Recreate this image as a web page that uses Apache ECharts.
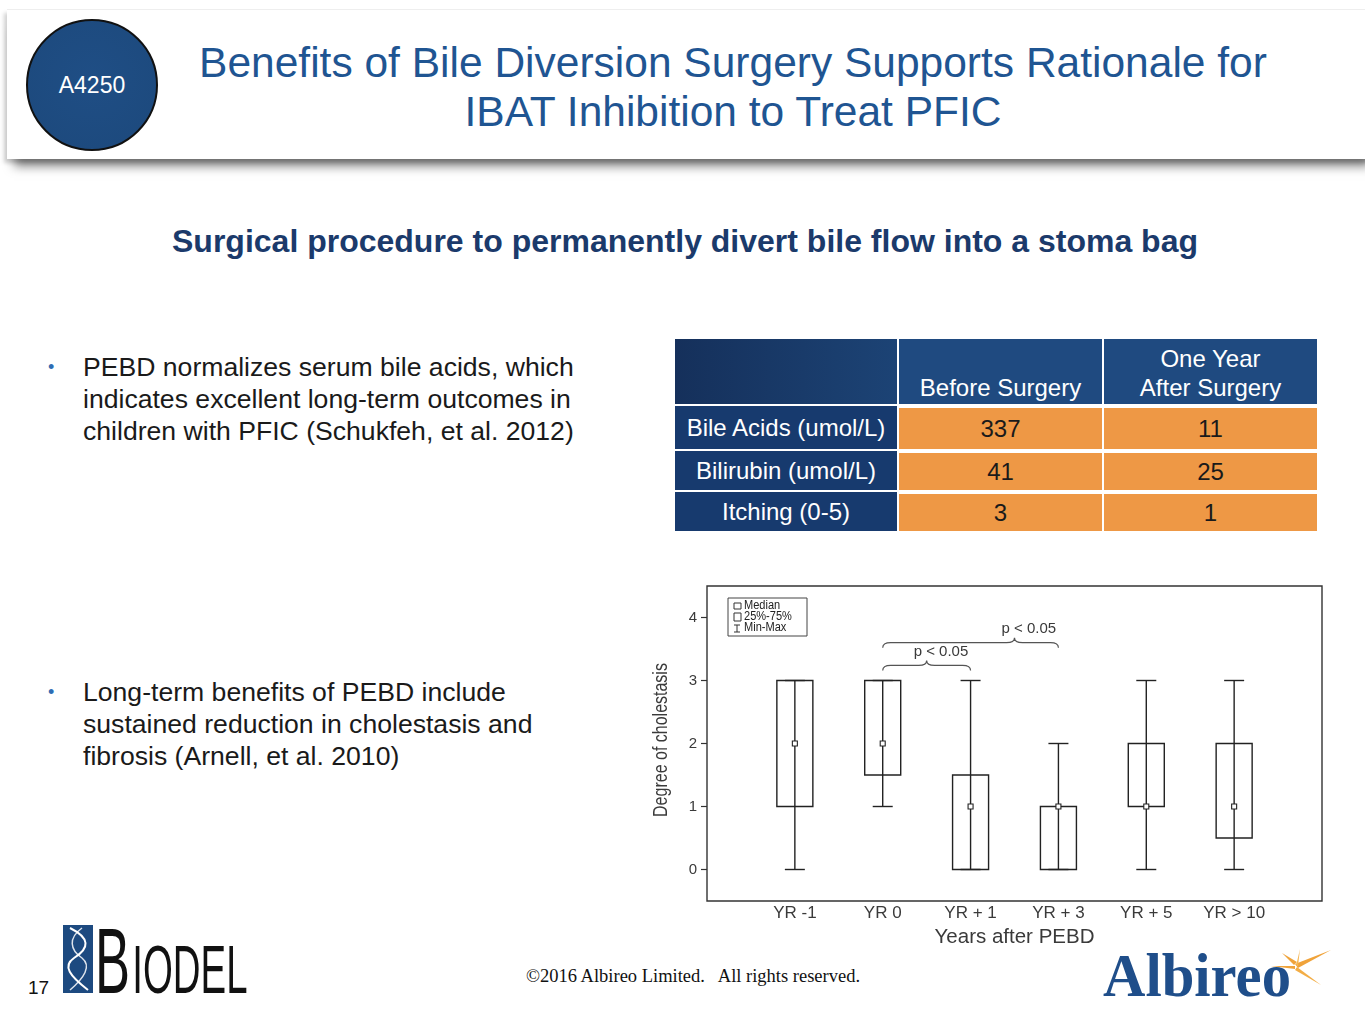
<!DOCTYPE html>
<html>
<head>
<meta charset="utf-8">
<script src="https://cdn.jsdelivr.net/npm/echarts@6/dist/echarts.min.js"></script>
<style>
  html, body { margin: 0; padding: 0; background: #fff; }
  body { width: 1365px; height: 1024px; position: relative; overflow: hidden; font-family: "Liberation Sans", Arial, sans-serif; }
  .abs { position: absolute; }
  #header { left: 7px; top: 9px; width: 1370px; height: 149px; background: #fff; border-top: 1px solid #eee;
    box-shadow: 0 14px 10px -7px rgba(0,0,0,0.5), -3px 4px 4px rgba(0,0,0,0.18); }
  #badge { left: 26px; top: 19px; width: 128px; height: 128px; border-radius: 50%; border: 2px solid #111;
    background: radial-gradient(circle at 50% 45%, #1f4e85 0%, #1d4a7e 76%, #2a5c93 87%, #7aa6d0 92%, #1d4677 100%);
    color: #fff; font-size: 23px; display: flex; align-items: center; justify-content: center; }
  #title { left: 133px; top: 38px; width: 1200px; text-align: center; color: #1f5592; font-size: 42.5px; line-height: 49px; }
  #subtitle { left: 0; top: 223px; width: 1370px; text-align: center; color: #1b3a6b; font-size: 32px; font-weight: bold; }
  .bullet { left: 48px; width: 600px; font-size: 26.6px; line-height: 32px; color: #1a1a1a; }
  .bullet .dot { position: absolute; left: 0; top: 0; color: #2e6db4; font-size: 18px; }
  .bullet .txt { position: absolute; left: 35px; top: 0; width: 580px; white-space: nowrap; }
  .cell { position: absolute; color: #fff; font-size: 24px; display: flex; align-items: center; justify-content: center; text-align: center; line-height: 29px; }
  .hd { background: #1f4a80; align-items: flex-end; padding-bottom: 2px; box-sizing: border-box; }
  .rh { background: #173a6e; }
  .dv { background: #ee9845; color: #1a1a1a; }
  #chart { left: 630px; top: 575px; width: 720px; height: 380px; }
  #pg { left: 28px; top: 977px; font-size: 19px; color: #111; }
  #copy { left: 493px; top: 966px; width: 400px; text-align: center; font-family: "Liberation Serif", "Times New Roman", serif; font-size: 18.5px; color: #111; white-space: nowrap; }
</style>
</head>
<body>
<div id="header" class="abs"></div>
<div id="badge" class="abs">A4250</div>
<div id="title" class="abs">Benefits of Bile Diversion Surgery Supports Rationale for<br>IBAT Inhibition to Treat PFIC</div>
<div id="subtitle" class="abs">Surgical procedure to permanently divert bile flow into a stoma bag</div>

<div class="abs bullet" style="top:351px;"><span class="dot">•</span><div class="txt">PEBD normalizes serum bile acids, which<br>indicates excellent long-term outcomes in<br>children with PFIC (Schukfeh, et al. 2012)</div></div>
<div class="abs bullet" style="top:676px;"><span class="dot">•</span><div class="txt">Long-term benefits of PEBD include<br>sustained reduction in cholestasis and<br>fibrosis (Arnell, et al. 2010)</div></div>

<div id="table"></div>

<div id="chart" class="abs"></div>

<div id="pg" class="abs">17</div>
<svg class="abs" style="left:60px;top:900px" width="205" height="124">
  <rect x="3" y="25" width="30" height="68" fill="#1d4a80"/>
  <path d="M10 28 C 30 38, 30 48, 14 58 C 2 66, 10 76, 28 90" stroke="#fff" stroke-width="2" fill="none"/>
  <path d="M22 28 C 8 38, 10 50, 22 58 C 32 66, 24 78, 10 90" stroke="#fff" stroke-width="1.5" fill="none" opacity="0.85"/>
  <g transform="translate(35,93) scale(0.565,1)">
    <text x="0" y="0" font-family="Liberation Sans, Arial, sans-serif" fill="#111"><tspan font-size="93">B</tspan><tspan font-size="68" dx="4">IODEL</tspan></text>
  </g>
</svg>
<div id="copy" class="abs">©2016 Albireo Limited.&nbsp;&nbsp; All rights reserved.</div>
<svg class="abs" style="left:1095px;top:935px" width="265" height="80">
  <text x="8" y="61" font-family="Liberation Serif, serif" font-weight="bold" font-size="62" textLength="188" lengthAdjust="spacingAndGlyphs" fill="#1f4e8a">Albireo</text>
  <polygon points="200,29 236,15 203,33" fill="#f0a33a"/>
  <polygon points="199,30 187,18 202,27" fill="#f0a33a"/>
  <polygon points="202,32 226,50 200,35" fill="#f3ad45"/>
  <polygon points="200,31 176,31 200,34" fill="#f0a33a"/>
  <polygon points="201,31 205,14 203,31" fill="#f5b550"/>
</svg>

<script>
// ---------- table data ----------
const tableColumns = ['Before Surgery', 'One Year<br>After Surgery'];
const tableRows = ['Bile Acids (umol/L)', 'Bilirubin (umol/L)', 'Itching (0-5)'];
const beforeSurgery = [337, 41, 3];
const afterSurgery = [11, 25, 1];

// ---------- boxplot data (Degree of cholestasis) ----------
const categories = ['YR -1', 'YR 0', 'YR + 1', 'YR + 3', 'YR + 5', 'YR > 10'];
const minVals    = [0, 1, 0, 0, 0, 0];
const q1Vals     = [1, 1.5, 0, 0, 1, 0.5];
const medianVals = [2, 2, 1, 1, 1, 1];
const q3Vals     = [3, 3, 1.5, 1, 2, 2];
const maxVals    = [3, 3, 3, 2, 3, 3];
const yTicks = [0, 1, 2, 3, 4];
const legendItems = ['Median', '25%-75%', 'Min-Max'];
// significance braces: from category, to category, peak fraction along the span, level, label
const braceFrom  = ['YR 0', 'YR 0'];
const braceTo    = ['YR + 1', 'YR + 3'];
const bracePeak  = [0.5, 0.75];
const braceLevel = [3.24, 3.6];
const braceLabel = ['p < 0.05', 'p < 0.05'];

// build table
(function () {
  const t = document.getElementById('table');
  const colX = [675, 899, 1104], colW = [222, 203, 213];
  const rowY = [339, 406, 451, 492], rowH = [65, 43, 39, 39];
  let html = '';
  html += `<div class="cell hd" style="left:${colX[0]}px;top:${rowY[0]}px;width:${colW[0]}px;height:${rowH[0]}px;background:linear-gradient(90deg,#15305b,#1c4375)"></div>`;
  tableColumns.forEach((c, j) => {
    html += `<div class="cell hd" style="left:${colX[j+1]}px;top:${rowY[0]}px;width:${colW[j+1]}px;height:${rowH[0]}px;">${c}</div>`;
  });
  tableRows.forEach((r, i) => {
    html += `<div class="cell rh" style="left:${colX[0]}px;top:${rowY[i+1]}px;width:${colW[0]}px;height:${rowH[i+1]}px;">${r}</div>`;
    html += `<div class="cell dv" style="left:${colX[1]}px;top:${rowY[i+1]+2}px;width:${colW[1]}px;height:${rowH[i+1]-2}px;">${beforeSurgery[i]}</div>`;
    html += `<div class="cell dv" style="left:${colX[2]}px;top:${rowY[i+1]+2}px;width:${colW[2]}px;height:${rowH[i+1]-2}px;">${afterSurgery[i]}</div>`;
  });
  t.innerHTML = html;
})();

// ---------- chart ----------
const axisCats = [''].concat(categories, ['']);
const boxData = categories.map((c, i) => [i + 1, minVals[i], q1Vals[i], medianVals[i], q3Vals[i], maxVals[i]]);
const braceData = braceFrom.map((f, i) => [axisCats.indexOf(f), axisCats.indexOf(braceTo[i]), braceLevel[i]]);

const chart = echarts.init(document.getElementById('chart'), null, { renderer: 'canvas' });
const lineColor = '#222';
const txtColor = '#3a3a3a';
const font = '"Liberation Sans", Arial, sans-serif';

const legendGraphics = [
  { type: 'rect', shape: { x: 98, y: 23, width: 79, height: 38 }, style: { fill: '#fff', stroke: '#444', lineWidth: 1 } },
  { type: 'rect', shape: { x: 104, y: 28, width: 7, height: 6 }, style: { fill: '#fff', stroke: '#333', lineWidth: 1 } },
  { type: 'rect', shape: { x: 104, y: 38, width: 7, height: 8 }, style: { fill: '#fff', stroke: '#333', lineWidth: 1 } },
  { type: 'polyline', shape: { points: [[104, 50], [110, 50]] }, style: { stroke: '#333', lineWidth: 1 } },
  { type: 'polyline', shape: { points: [[107, 50], [107, 57]] }, style: { stroke: '#333', lineWidth: 1 } },
  { type: 'polyline', shape: { points: [[104, 57], [110, 57]] }, style: { stroke: '#333', lineWidth: 1 } }
].concat(legendItems.map((t, i) => ({
  type: 'text', x: 114, y: 31 + i * 11, scaleX: 0.92,
  style: { text: t, fill: '#222', font: '12px "Liberation Sans", Arial', verticalAlign: 'middle' }
})));

chart.setOption({
  animation: false,
  grid: { left: 77, top: 11, width: 615, height: 315, show: true, borderColor: '#333', borderWidth: 1.4, backgroundColor: 'transparent' },
  xAxis: {
    type: 'category', data: axisCats, boundaryGap: false,
    axisLine: { show: false }, axisTick: { show: false }, splitLine: { show: false },
    axisLabel: { color: txtColor, fontSize: 17, fontFamily: font, margin: 4, interval: 0 },
    name: 'Years after PEBD', nameLocation: 'middle', nameGap: 24,
    nameTextStyle: { color: txtColor, fontSize: 20.5, fontFamily: font }
  },
  yAxis: {
    type: 'value', min: -0.5, max: 4.5,
    axisLine: { show: false }, splitLine: { show: false },
    axisTick: { show: true, length: 6, customValues: yTicks, lineStyle: { color: '#333', width: 1.2 } },
    axisLabel: { color: txtColor, fontSize: 15, fontFamily: font, margin: 10, customValues: yTicks }
  },
  graphic: legendGraphics.concat([
    { type: 'text', x: 31, y: 165, rotation: Math.PI / 2, scaleX: 0.8,
      style: { text: 'Degree of cholestasis', fill: txtColor, font: '20px "Liberation Sans", Arial', align: 'center', verticalAlign: 'middle' } }
  ]),
  series: [
    {
      type: 'custom', name: 'box',
      data: boxData,
      encode: { x: 0, y: [1, 2, 3, 4, 5] },
      renderItem: function (params, api) {
        const x = api.value(0);
        const pMin = api.coord([x, api.value(1)]);
        const pQ1 = api.coord([x, api.value(2)]);
        const pMed = api.coord([x, api.value(3)]);
        const pQ3 = api.coord([x, api.value(4)]);
        const pMax = api.coord([x, api.value(5)]);
        const cx = pMin[0], bw = 36, cw = 20, ms = 5;
        const st = { stroke: lineColor, lineWidth: 1.4, fill: null };
        return {
          type: 'group',
          children: [
            { type: 'rect', shape: { x: cx - bw / 2, y: pQ3[1], width: bw, height: pQ1[1] - pQ3[1] }, style: st },
            { type: 'line', shape: { x1: cx, y1: pMin[1], x2: cx, y2: pMax[1] }, style: st },
            { type: 'line', shape: { x1: cx - cw / 2, y1: pMin[1], x2: cx + cw / 2, y2: pMin[1] }, style: st },
            { type: 'line', shape: { x1: cx - cw / 2, y1: pMax[1], x2: cx + cw / 2, y2: pMax[1] }, style: st },
            { type: 'rect', shape: { x: cx - ms / 2, y: pMed[1] - ms / 2, width: ms, height: ms }, style: { stroke: '#222', lineWidth: 1.1, fill: '#fff' } }
          ]
        };
      }
    },
    {
      type: 'custom', name: 'brace',
      data: braceData,
      encode: { x: [0, 1], y: 2 },
      renderItem: function (params, api) {
        const i = params.dataIndex;
        const a = api.coord([api.value(0), api.value(2)]);
        const b = api.coord([api.value(1), api.value(2)]);
        const px = a[0] + (b[0] - a[0]) * bracePeak[i];
        const y = a[1], r = 8, dn = 5, up = 5;
        const d = `M${a[0]} ${y + dn} Q${a[0]} ${y} ${a[0] + r} ${y} L${px - r} ${y} Q${px} ${y} ${px} ${y - up} Q${px} ${y} ${px + r} ${y} L${b[0] - r} ${y} Q${b[0]} ${y} ${b[0]} ${y + dn}`;
        return {
          type: 'group',
          children: [
            { type: 'path', shape: { pathData: d }, style: { stroke: '#555', lineWidth: 1.2, fill: null } },
            { type: 'text', x: px - 13, y: y - 14, style: { text: braceLabel[i], fill: txtColor, font: '15px "Liberation Sans", Arial', verticalAlign: 'middle', align: 'left' } }
          ]
        };
      }
    }
  ]
});
</script>
</body>
</html>
